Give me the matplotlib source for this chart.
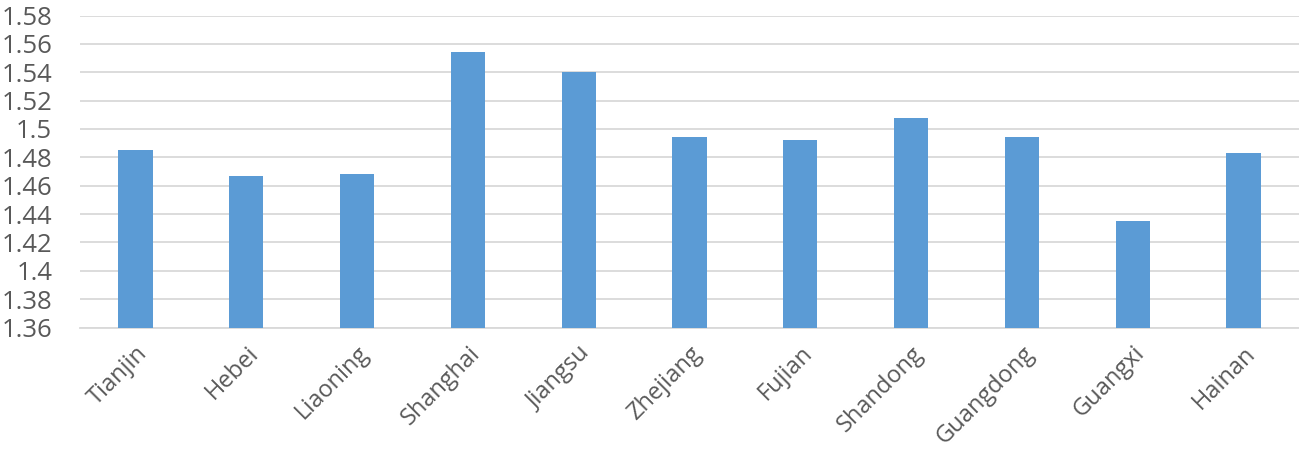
import matplotlib.pyplot as plt
import numpy as np

provinces = ["Tianjin", "Hebei", "Liaoning", "Shanghai", "Jiangsu", "Zhejiang",
             "Fujian", "Shandong", "Guangdong", "Guangxi", "Hainan"]
values = [1.485, 1.467, 1.468, 1.554, 1.540, 1.494, 1.492, 1.508, 1.494, 1.435, 1.483]
yticks = [1.36, 1.38, 1.4, 1.42, 1.44, 1.46, 1.48, 1.5, 1.52, 1.54, 1.56, 1.58]
ytick_labels = ["1.36", "1.38", "1.4", "1.42", "1.44", "1.46", "1.48", "1.5",
                "1.52", "1.54", "1.56", "1.58"]

plt.rcParams['font.family'] = ['Open Sans', 'DejaVu Sans']

fig = plt.figure(figsize=(12.99, 4.59), dpi=100)
ax = fig.add_axes([80 / 1299, 1 - 327.5 / 459, 1219 / 1299, 312 / 459])

x = np.arange(len(provinces))
ax.bar(x, values, width=0.31, bottom=0, color="#5b9bd5", zorder=3)

ax.set_ylim(1.36, 1.58)
ax.set_xlim(-0.5, len(provinces) - 0.5)
ax.set_yticks(yticks)
ax.set_yticklabels(ytick_labels)
ax.yaxis.grid(True, color="#d9d9d9", linewidth=1.3, zorder=0)
ax.set_xticks(x)
ax.set_xticklabels(provinces, rotation=45, ha="right", rotation_mode="anchor")

for s in ["top", "right", "left"]:
    ax.spines[s].set_visible(False)
ax.spines["bottom"].set_color("#d9d9d9")
ax.spines["bottom"].set_linewidth(1.3)
ax.tick_params(axis="both", length=0, labelcolor="#595959")
ax.tick_params(axis="x", pad=10, labelsize=17)
ax.tick_params(axis="y", pad=20, labelsize=18.5)

fig.savefig("out.png", dpi=100)
